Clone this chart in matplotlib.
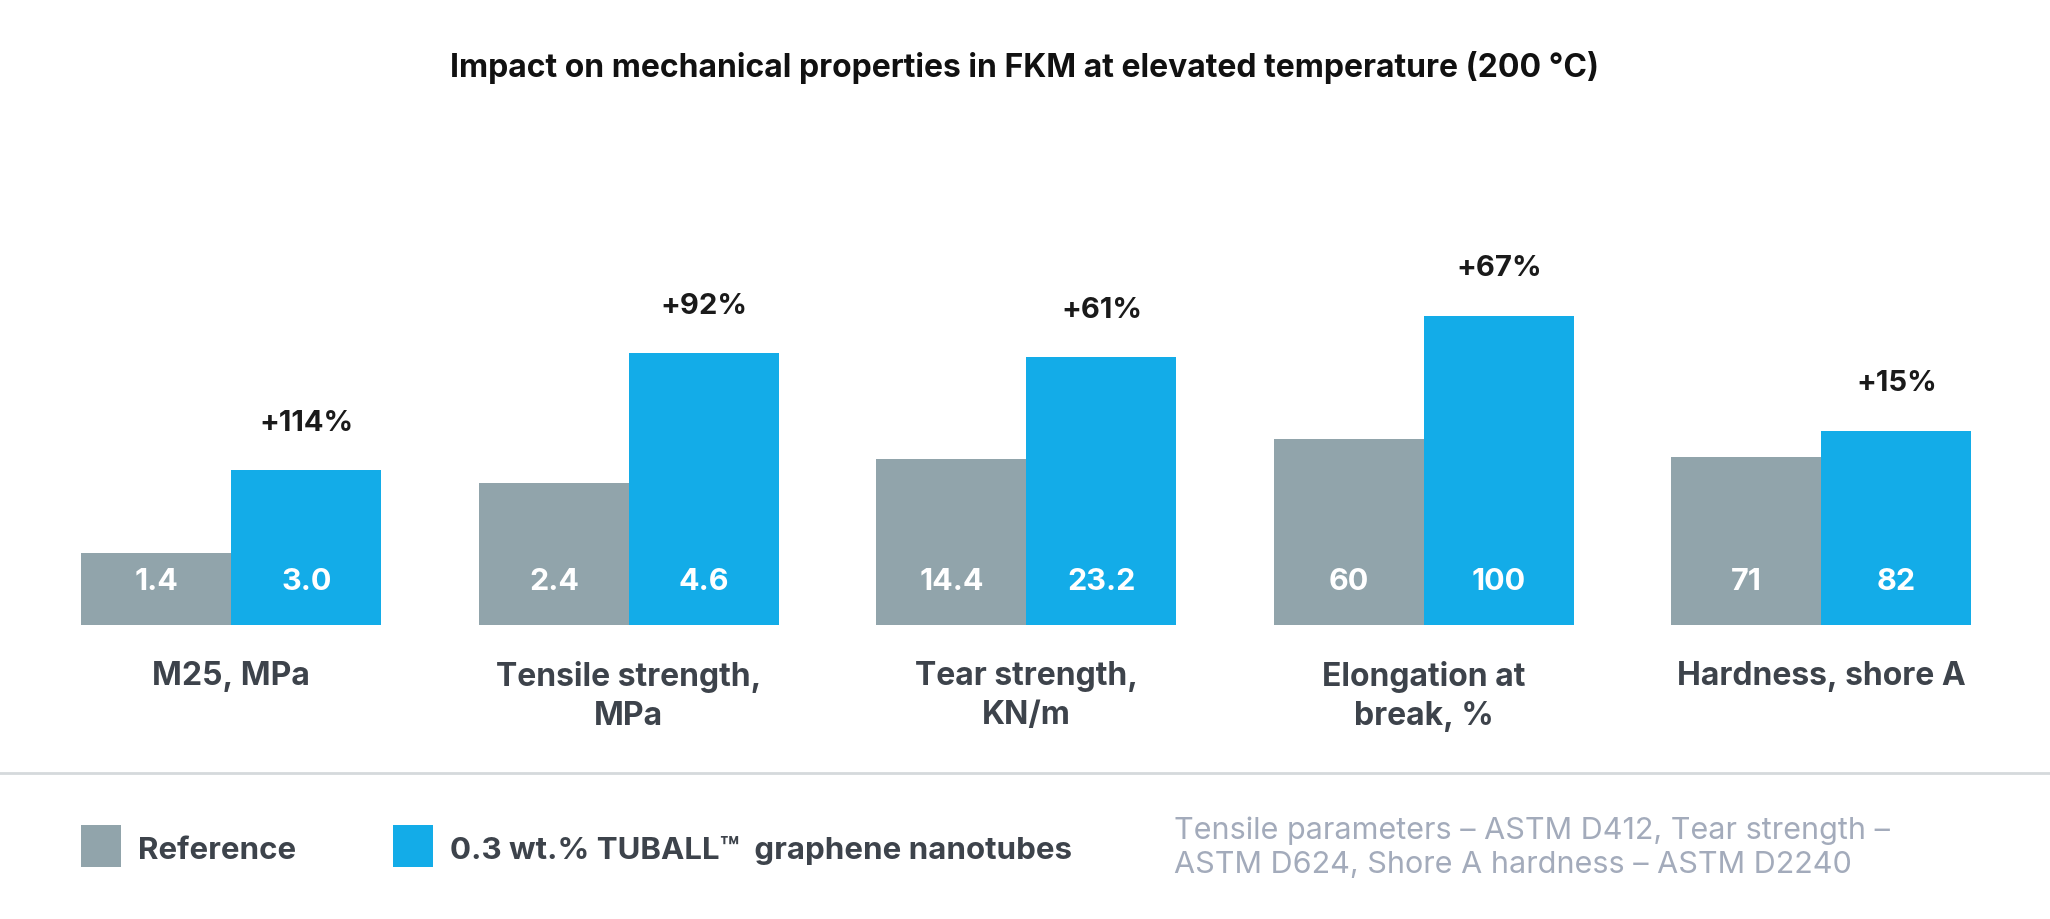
import matplotlib
matplotlib.use('Agg')
import matplotlib.pyplot as plt
from matplotlib.patches import Rectangle
from matplotlib.lines import Line2D

categories = ['M25, MPa', 'Tensile strength,\nMPa', 'Tear strength,\nKN/m',
              'Elongation at\nbreak, %', 'Hardness, shore A']
ref_vals = [1.4, 2.4, 14.4, 60, 71]
tuball_vals = [3.0, 4.6, 23.2, 100, 82]
ref_labels = ['1.4', '2.4', '14.4', '60', '71']
tuball_labels = ['3.0', '4.6', '23.2', '100', '82']
pct_labels = ['+114%', '+92%', '+61%', '+67%', '+15%']
# each property has its own hidden value scale (top of the plot area)
scale_top = [10.2, 8.9, 45.6, 170, 222]

GRAY = '#91a4ab'
BLUE = '#13ace8'
DARK = '#3d434b'
FONT = ['Inter', 'DejaVu Sans']

plt.rcParams['font.family'] = FONT

fig = plt.figure(figsize=(20.5, 9.2), dpi=100)
ax = fig.add_axes([0, 1 - 626 / 920, 1, 526 / 920])
ax.set_xlim(-231.4 / 397.5, (2050 - 231.4) / 397.5)
ax.set_ylim(0, 1)
ax.axis('off')

w = 150 / 397.5
for i, cat in enumerate(categories):
    hr = ref_vals[i] / scale_top[i]
    ht = tuball_vals[i] / scale_top[i]
    ax.bar(i - w / 2, hr, width=w, color=GRAY, linewidth=0)
    ax.bar(i + w / 2, ht, width=w, color=BLUE, linewidth=0)
    ax.annotate(ref_labels[i], (i - w / 2, 0), xytext=(0, 44), textcoords='offset pixels',
                ha='center', va='center', color='white', fontsize=22, fontweight='bold')
    ax.annotate(tuball_labels[i], (i + w / 2, 0), xytext=(0, 44), textcoords='offset pixels',
                ha='center', va='center', color='white', fontsize=22, fontweight='bold')
    ax.annotate(pct_labels[i], (i + w / 2, ht), xytext=(0, 48), textcoords='offset pixels',
                ha='center', va='center', color='#1a1a1a', fontsize=21, fontweight='bold')
    ax.annotate(cat, (i, 0), xytext=(0, -35), textcoords='offset pixels',
                ha='center', va='top', color=DARK, fontsize=23, fontweight='bold',
                linespacing=1.33, annotation_clip=False)

fig.text(0.5, 1 - 68 / 920, 'Impact on mechanical properties in FKM at elevated temperature (200 °C)',
         ha='center', va='center', fontsize=23, fontweight='bold', color='#111111')

# separator and legend
fig.add_artist(Line2D([0, 1], [1 - 774 / 920, 1 - 774 / 920], color='#d5d9dc', linewidth=2))
for x0, col, lab in [(81, GRAY, 'Reference'), (393, BLUE, '0.3 wt.% TUBALL™  graphene nanotubes')]:
    fig.add_artist(Rectangle((x0 / 2050, 1 - 868 / 920), 40 / 2050, 42 / 920,
                             facecolor=col, edgecolor='none', transform=fig.transFigure))
    fig.text((x0 + 57) / 2050, 1 - 851 / 920, lab, ha='left', va='center',
             fontsize=22.5, fontweight='bold', color=DARK)

fig.text(1174 / 2050, 1 - 848 / 920,
         'Tensile parameters – ASTM D412, Tear strength –\nASTM D624, Shore A hardness – ASTM D2240',
         ha='left', va='center', fontsize=22, color='#a3abbb', linespacing=1.25)

fig.savefig('out.png', dpi=100)
